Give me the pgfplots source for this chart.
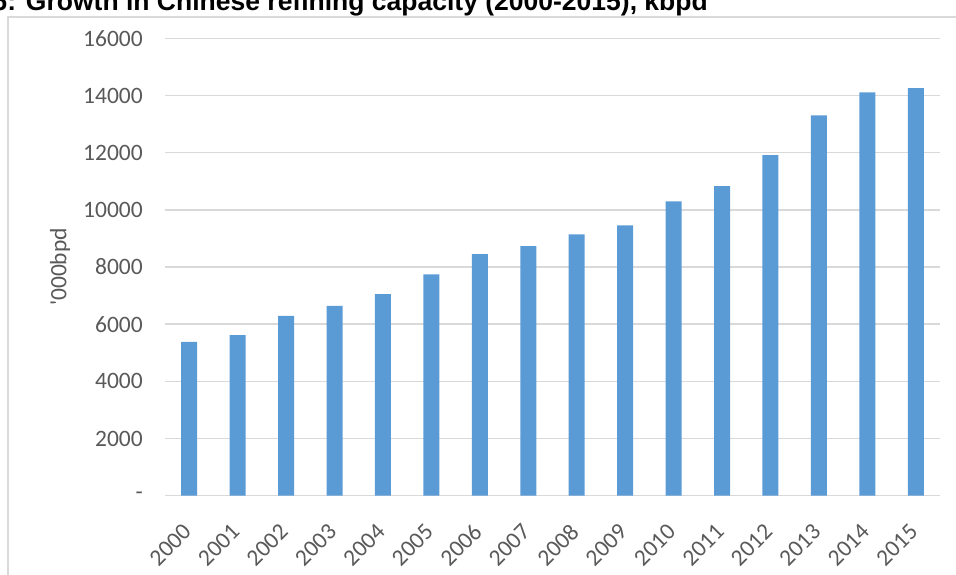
\documentclass[border=0pt]{standalone}
\usepackage{pgfplots}
\pgfplotsset{compat=1.18}
\usepackage{fontspec}
\setmainfont{Carlito}
\newfontfamily\titlefont{Liberation Sans}
\definecolor{barblue}{HTML}{5B9BD5}
\definecolor{gridgray}{HTML}{D9D9D9}
\definecolor{textgray}{HTML}{595959}
\definecolor{framegray}{HTML}{D9D9D9}
\begin{document}
\begin{tikzpicture}[x=1pt,y=1pt]
\useasboundingbox (0,0) rectangle (956,575);
\clip (0,0) rectangle (956,575);
\node[anchor=base east, inner sep=0pt, font=\titlefont\bfseries\fontsize{26.5}{30}\selectfont] at (708,564) {Figure 6: Growth in Chinese refining capacity (2000-2015), kbpd};
\draw[framegray, line width=1.2pt] (8,-5) -- (8,558) -- (960,558);
\begin{axis}[
  at={(165pt,79.3pt)}, anchor=south west,
  scale only axis, width=775pt, height=457.4pt,
  xmin=-0.5, xmax=15.5, ymin=0, ymax=16000,
  ybar, bar width=16pt,
  axis line style={draw=none},
  tick style={draw=none},
  scaled y ticks=false,
  ymajorgrids, grid style={gridgray, line width=1.5pt},
  ytick={0,2000,4000,6000,8000,10000,12000,14000,16000},
  yticklabels={-,2000,4000,6000,8000,10000,12000,14000,16000},
  xtick={0,...,15},
  xticklabels={2000,2001,2002,2003,2004,2005,2006,2007,2008,2009,2010,2011,2012,2013,2014,2015},
  yticklabel style={anchor=east, inner sep=0pt, xshift=-22pt, text=textgray, font=\fontsize{23.5}{28}\selectfont},
  xticklabel style={anchor=east, inner sep=0pt, xshift=-2pt, yshift=-28pt, rotate=45, text=textgray, font=\fontsize{23.5}{28}\selectfont},
  ylabel={\textquotesingle000bpd},
  ylabel style={at={(axis description cs:-0.1355,0.5)}, anchor=center, text=textgray, font=\fontsize{23.5}{28}\selectfont},
]
\addplot[fill=barblue, draw=none] coordinates {
(0,5385) (1,5619) (2,6294) (3,6643) (4,7052) (5,7741) (6,8451) (7,8731)
(8,9145) (9,9458) (10,10294) (11,10829) (12,11913) (13,13300) (14,14105) (15,14255)
};
\end{axis}
\end{tikzpicture}
\end{document}
